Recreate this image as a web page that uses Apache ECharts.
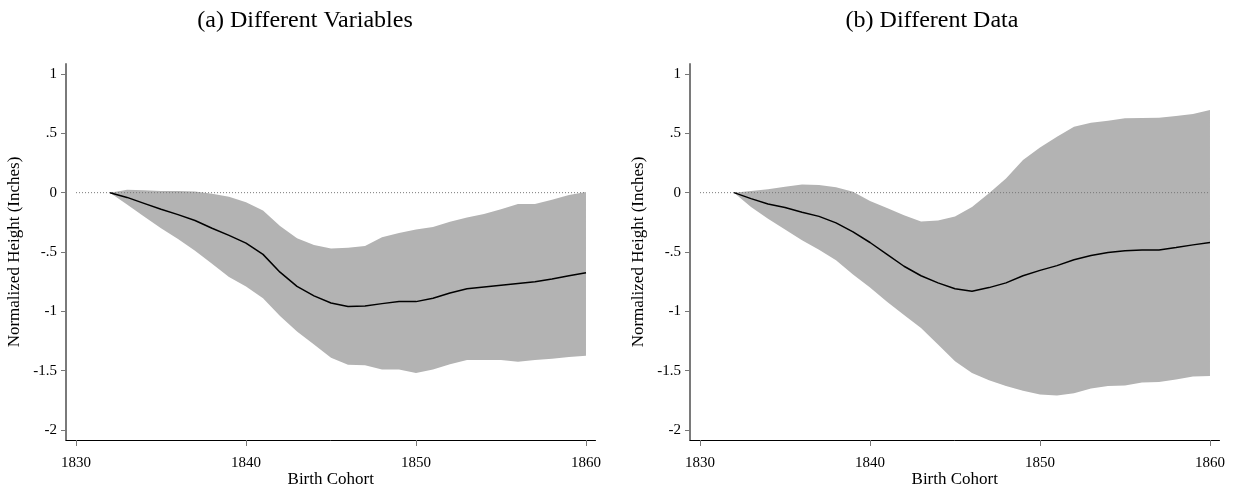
<!DOCTYPE html>
<html>
<head>
<meta charset="utf-8">
<script src="https://cdn.jsdelivr.net/npm/echarts@6/dist/echarts.min.js"></script>
<style>
  html, body { margin: 0; padding: 0; background: #fff; }
  #chart { width: 1237px; height: 486px; }
</style>
</head>
<body>
<div id="chart"></div>
<script>
// birth cohorts
const years = [1832, 1833, 1834, 1835, 1836, 1837, 1838, 1839, 1840, 1841, 1842, 1843, 1844, 1845, 1846,
  1847, 1848, 1849, 1850, 1851, 1852, 1853, 1854, 1855, 1856, 1857, 1858, 1859, 1860];

// (a) Different Variables
const estA = [0, -0.04, -0.09, -0.14, -0.185, -0.235, -0.3, -0.36, -0.425, -0.52, -0.67, -0.79, -0.87, -0.93, -0.96,
  -0.955, -0.935, -0.918, -0.918, -0.89, -0.845, -0.81, -0.795, -0.78, -0.765, -0.75, -0.727, -0.7, -0.674];
const upperA = [0, 0.025, 0.02, 0.015, 0.015, 0.01, -0.01, -0.035, -0.08, -0.15, -0.28, -0.385, -0.44, -0.47, -0.465,
  -0.45, -0.375, -0.34, -0.31, -0.29, -0.245, -0.21, -0.18, -0.14, -0.095, -0.095, -0.06, -0.02, 0.005];
const lowerA = [0, -0.1, -0.2, -0.3, -0.39, -0.49, -0.6, -0.71, -0.79, -0.89, -1.04, -1.17, -1.28, -1.39, -1.45,
  -1.455, -1.49, -1.49, -1.52, -1.49, -1.445, -1.41, -1.41, -1.41, -1.425, -1.41, -1.4, -1.385, -1.375];

// (b) Different Data
const estB = [0, -0.05, -0.095, -0.125, -0.165, -0.2, -0.255, -0.33, -0.42, -0.52, -0.62, -0.7, -0.76, -0.81, -0.83,
  -0.8, -0.76, -0.7, -0.655, -0.615, -0.565, -0.53, -0.505, -0.49, -0.483, -0.483, -0.463, -0.44, -0.42];
const upperB = [0, 0.015, 0.028, 0.05, 0.068, 0.065, 0.045, 0.008, -0.07, -0.13, -0.19, -0.244, -0.235, -0.2, -0.12,
  -0.005, 0.12, 0.275, 0.38, 0.47, 0.556, 0.59, 0.605, 0.627, 0.63, 0.632, 0.645, 0.663, 0.697];
const lowerB = [0, -0.12, -0.22, -0.31, -0.4, -0.48, -0.57, -0.69, -0.8, -0.92, -1.03, -1.14, -1.28, -1.42, -1.52,
  -1.58, -1.63, -1.67, -1.7, -1.71, -1.69, -1.65, -1.63, -1.625, -1.6, -1.595, -1.575, -1.55, -1.545];

const xTicks = [1830, 1840, 1850, 1860];
const yTicks = [-2, -1.5, -1, -0.5, 0, 0.5, 1];
const zeroLine = [[1830, 0], [1860, 0]];
const titles = ['(a) Different Variables', '(b) Different Data'];

const FONT = '"Liberation Serif", "DejaVu Serif", serif';

const chart = echarts.init(document.getElementById('chart'));

// stata style: .5 and -.5
const fmtY = v => String(v).replace(/^(-?)0\./, '$1.');

const makeX = idx => ({
  type: 'value',
  gridIndex: idx,
  min: 1829.41,
  max: 1860.56,
  name: 'Birth Cohort',
  nameLocation: 'middle',
  nameGap: 31,
  nameMoveOverlap: false,
  nameTextStyle: { fontFamily: FONT, fontSize: 17, color: '#000' },
  splitLine: { show: false },
  axisLine: { onZero: false, lineStyle: { color: '#000', width: 1 } },
  axisTick: { customValues: xTicks, length: 6, lineStyle: { color: '#777', width: 1 } },
  axisLabel: { customValues: xTicks, margin: 16, fontFamily: FONT, fontSize: 15, color: '#000',
    formatter: v => String(v) }
});

const makeY = idx => ({
  type: 'value',
  gridIndex: idx,
  min: -2.084,
  max: 1.084,
  name: 'Normalized Height (Inches)',
  nameLocation: 'middle',
  nameGap: 43,
  nameTextStyle: { fontFamily: FONT, fontSize: 17, color: '#000' },
  splitLine: { show: false },
  axisLine: { show: true, lineStyle: { color: '#7a7a7a', width: 2 } },
  axisTick: { show: true, customValues: yTicks, length: 5, lineStyle: { color: '#777', width: 1 } },
  axisLabel: { customValues: yTicks, margin: 9, fontFamily: FONT, fontSize: 15, color: '#000', formatter: fmtY }
});

// confidence band as one polygon, coords from the axis scales
const bandSeries = (idx, lo, hi) => ({
  type: 'custom',
  xAxisIndex: idx,
  yAxisIndex: idx,
  z: 1,
  silent: true,
  data: years.map((y, i) => [y, lo[i], hi[i]]),
  encode: { x: 0, y: [1, 2] },
  renderItem: (params, api) => {
    if (params.dataIndex !== 0) return;
    const pts = [];
    years.forEach((y, i) => pts.push(api.coord([y, hi[i]])));
    for (let i = years.length - 1; i >= 0; i--) pts.push(api.coord([years[i], lo[i]]));
    return {
      type: 'polygon',
      shape: { points: pts },
      style: { fill: '#b3b3b3', stroke: null }
    };
  }
});

const zeroSeries = idx => ({
  type: 'line',
  xAxisIndex: idx,
  yAxisIndex: idx,
  z: 3,
  silent: true,
  symbol: 'none',
  data: zeroLine,
  lineStyle: { color: '#777', width: 1, type: [1, 2] }
});

const estSeries = (idx, est) => ({
  type: 'line',
  xAxisIndex: idx,
  yAxisIndex: idx,
  z: 4,
  silent: true,
  symbol: 'none',
  data: years.map((y, i) => [y, est[i]]),
  lineStyle: { color: '#000', width: 1.5 }
});

const option = {
  animation: false,
  backgroundColor: '#fff',
  title: [
    { text: titles[0], left: 300, top: 4, textAlign: 'center',
      textStyle: { fontFamily: FONT, fontWeight: 'normal', fontSize: 24, color: '#000' } },
    { text: titles[1], left: 927, top: 4, textAlign: 'center',
      textStyle: { fontFamily: FONT, fontWeight: 'normal', fontSize: 24, color: '#000' } }
  ],
  grid: [
    { left: 66, width: 529.5, top: 64, height: 376, outerBoundsMode: 'none', containLabel: false },
    { left: 690, width: 529.5, top: 64, height: 376, outerBoundsMode: 'none', containLabel: false }
  ],
  xAxis: [makeX(0), makeX(1)],
  yAxis: [makeY(0), makeY(1)],
  series: [
    bandSeries(0, lowerA, upperA),
    zeroSeries(0),
    estSeries(0, estA),
    bandSeries(1, lowerB, upperB),
    zeroSeries(1),
    estSeries(1, estB)
  ]
};

chart.setOption(option);
window.addEventListener('resize', () => chart.resize());
</script>
</body>
</html>
